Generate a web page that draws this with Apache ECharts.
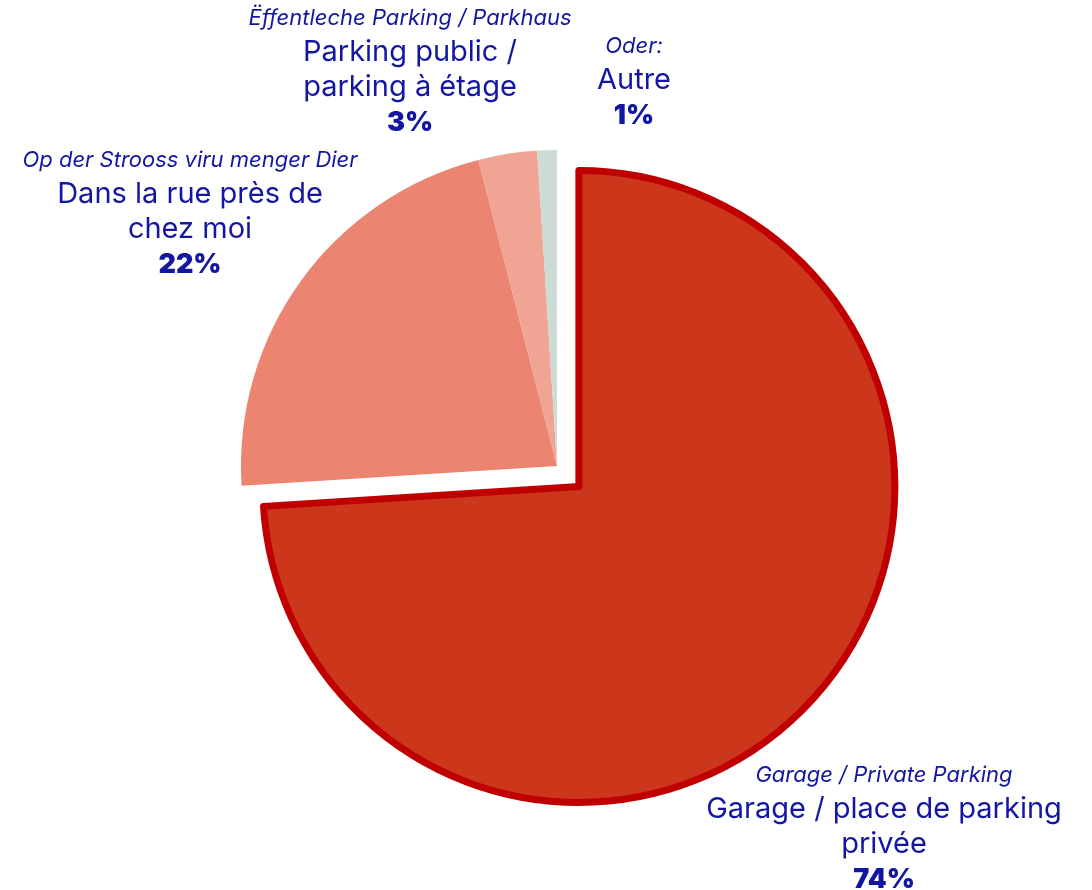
<!DOCTYPE html>
<html>
<head>
<meta charset="utf-8">
<style>
  html, body { margin: 0; padding: 0; background: #ffffff; }
  #chart { width: 1092px; height: 890px; }
</style>
<script src="https://cdn.jsdelivr.net/npm/echarts@6/dist/echarts.min.js"></script>
</head>
<body>
<div id="chart"></div>
<script>
// Where people park their car: share of answers
const labelsLb = ['Garage / Private Parking', 'Op der Strooss viru menger Dier', 'Ëffentleche Parking / Parkhaus', 'Oder:'];
const labelsFr = ['Garage / place de parking\nprivée', 'Dans la rue près de\nchez moi', 'Parking public /\nparking à étage', 'Autre'];
const shares = [74, 22, 3, 1];

const sliceColors = ['#cc371b', '#eb8470', '#f0a494', '#cddbd6'];
// top-centre anchor of each slice's caption block
const labelAnchors = [[884, 758], [190, 143], [410, 1], [634, 29]];

const chart = echarts.init(document.getElementById('chart'));

const blue = '#1216a0';
const font = 'Inter, "Noto Sans", sans-serif';

const captionRich = {
  s: { fontFamily: font, fontStyle: 'italic', fontSize: 22, fill: blue, lineHeight: 34, align: 'center' },
  m: { fontFamily: font, fontSize: 29, fill: blue, lineHeight: 35, align: 'center' },
  b: { fontFamily: font, fontWeight: 900, fontSize: 27, fill: blue, lineHeight: 36, align: 'center' }
};

function caption(i) {
  const main = labelsFr[i].split('\n').map(function (l) { return '{m|' + l + '}'; }).join('\n');
  return '{s|' + labelsLb[i] + '}\n' + main + '\n{b|' + shares[i] + '%}';
}

chart.setOption({
  animation: false,
  graphic: shares.map(function (v, i) {
    return {
      type: 'text',
      x: labelAnchors[i][0],
      y: labelAnchors[i][1],
      silent: true,
      style: {
        text: caption(i),
        rich: captionRich,
        fill: blue,
        align: 'center',
        verticalAlign: 'top'
      }
    };
  }),
  series: [{
    type: 'pie',
    center: [557, 466],
    radius: [0, 316],
    startAngle: 90,
    clockwise: true,
    selectedMode: 'single',
    selectedOffset: 30,
    silent: true,
    emphasis: { disabled: true },
    label: { show: false },
    labelLine: { show: false },
    data: shares.map(function (v, i) {
      const item = {
        name: labelsFr[i],
        value: v,
        itemStyle: { color: sliceColors[i], borderWidth: 0 }
      };
      if (i === 0) {
        item.selected = true;
        item.itemStyle.borderColor = '#c00000';
        item.itemStyle.borderWidth = 7;
        item.itemStyle.borderJoin = 'round';
      }
      return item;
    })
  }]
});
</script>
</body>
</html>
